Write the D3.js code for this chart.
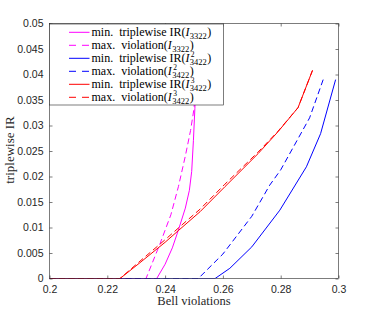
<!DOCTYPE html>
<html>
<head>
<meta charset="utf-8">
<script src="https://cdn.jsdelivr.net/npm/d3@7"></script>
<style>
  body { margin: 0; background: #fff; }
  svg { display: block; }
</style>
</head>
<body>
<div id="chart"></div>
<script>
// data
var xTicks = [0.2, 0.22, 0.24, 0.26, 0.28, 0.3];
var yTicks = [0, 0.005, 0.01, 0.015, 0.02, 0.025, 0.03, 0.035, 0.04, 0.045, 0.05];

var magSolidX = [0.2, 0.2371, 0.2400, 0.2425, 0.2446, 0.2470, 0.2484, 0.2492, 0.2498, 0.2503, 0.2507];
var magSolidY = [0, 0, 0.0028, 0.0060, 0.0095, 0.0138, 0.0173, 0.0210, 0.0271, 0.0333, 0.0400];
var magDashX = [0.2, 0.2334, 0.2383, 0.2420, 0.2446, 0.2470, 0.2488, 0.2500, 0.2508];
var magDashY = [0, 0, 0.0069, 0.0125, 0.0180, 0.0240, 0.0290, 0.0333, 0.0400];

var blueSolidX = [0.2, 0.2573, 0.2624, 0.2700, 0.2797, 0.2889, 0.2938, 0.2990];
var blueSolidY = [0, 0, 0.0020, 0.0062, 0.0134, 0.0219, 0.0284, 0.0390];
var blueDashX = [0.2, 0.2515, 0.2600, 0.2700, 0.2762, 0.2800, 0.2900, 0.2947];
var blueDashY = [0, 0, 0.0048, 0.0122, 0.0183, 0.0213, 0.0315, 0.0390];

var redSolidX = [0.2, 0.2244, 0.2313, 0.2400, 0.2446, 0.2521, 0.2607, 0.2722, 0.2791, 0.2860, 0.2910];
var redSolidY = [0, 0, 0.0031, 0.0071, 0.0094, 0.0131, 0.0180, 0.0245, 0.0288, 0.0335, 0.0408];
var redDashX = [0.2, 0.2244, 0.2313, 0.2400, 0.2446, 0.2521, 0.2607, 0.2722, 0.2791, 0.2860, 0.2910];
var redDashY = [0, 0, 0.0034, 0.0076, 0.0099, 0.0136, 0.0185, 0.0248, 0.0289, 0.0335, 0.0408];

var series = [
  {xs: magSolidX, ys: magSolidY, color: '#ff00ff', dash: null, label: 'min.  triplewise IR(', sub: '3322', sup: null},
  {xs: magDashX, ys: magDashY, color: '#ff00ff', dash: '6,3.5', label: 'max.  violation(', sub: '3322', sup: null},
  {xs: blueSolidX, ys: blueSolidY, color: '#0000ff', dash: null, label: 'min.  triplewise IR(', sub: '3422', sup: '2'},
  {xs: blueDashX, ys: blueDashY, color: '#0000ff', dash: '6,3.5', label: 'max.  violation(', sub: '3422', sup: '2'},
  {xs: redSolidX, ys: redSolidY, color: '#ff0000', dash: null, label: 'min.  triplewise IR(', sub: '3422', sup: '3'},
  {xs: redDashX, ys: redDashY, color: '#ff0000', dash: '6,3.5', label: 'max.  violation(', sub: '3422', sup: '3'}
];

var width = 374, height = 313;
var margin = {left: 49.5, right: 35.5, top: 23.5, bottom: 34.5};
var axisColor = '#262626';
var serif = '"Liberation Serif", "DejaVu Serif", serif';
var sans = '"Liberation Sans", Arial, sans-serif';

var svg = d3.select('#chart').append('svg')
  .attr('width', width)
  .attr('height', height);

var x = d3.scaleLinear().domain([0.2, 0.3]).range([margin.left, width - margin.right]);
var y = d3.scaleLinear().domain([0, 0.05]).range([height - margin.bottom, margin.top]);

var fmt = function (d) { return String(+d.toFixed(4)); };

svg.append('clipPath').attr('id', 'clip')
  .append('rect')
  .attr('x', margin.left).attr('y', margin.top)
  .attr('width', x.range()[1] - margin.left)
  .attr('height', y.range()[0] - margin.top);

var line = d3.line()
  .x(function (d) { return x(d[0]); })
  .y(function (d) { return y(d[1]); });

svg.append('g').attr('clip-path', 'url(#clip)')
  .selectAll('path')
  .data(series)
  .enter()
  .append('path')
  .attr('d', function (s) { return line(d3.zip(s.xs, s.ys)); })
  .attr('fill', 'none')
  .attr('stroke', function (s) { return s.color; })
  .attr('stroke-width', 1)
  .attr('stroke-dasharray', function (s) { return s.dash; });

// axes: ticks point inward, box on
function styleAxis(g) {
  g.select('.domain').remove();
  g.selectAll('.tick line').attr('stroke', axisColor).attr('stroke-width', 0.6);
  g.selectAll('.tick text').attr('fill', axisColor)
    .style('font-family', sans).style('font-size', '10.5px');
}

svg.append('g')
  .attr('transform', 'translate(0,' + y.range()[0] + ')')
  .call(d3.axisBottom(x).tickValues(xTicks).tickFormat(fmt).tickSizeInner(-3).tickSizeOuter(0).tickPadding(7))
  .call(styleAxis);

svg.append('g')
  .attr('transform', 'translate(0,' + margin.top + ')')
  .call(d3.axisTop(x).tickValues(xTicks).tickFormat('').tickSizeInner(-3).tickSizeOuter(0))
  .call(styleAxis);

svg.append('g')
  .attr('transform', 'translate(' + margin.left + ',0)')
  .call(d3.axisLeft(y).tickValues(yTicks).tickFormat(fmt).tickSizeInner(-3).tickSizeOuter(0).tickPadding(6))
  .call(styleAxis);

svg.append('g')
  .attr('transform', 'translate(' + x.range()[1] + ',0)')
  .call(d3.axisRight(y).tickValues(yTicks).tickFormat('').tickSizeInner(-3).tickSizeOuter(0))
  .call(styleAxis);

svg.append('rect')
  .attr('x', margin.left).attr('y', margin.top)
  .attr('width', x.range()[1] - margin.left)
  .attr('height', y.range()[0] - margin.top)
  .attr('fill', 'none')
  .attr('stroke', axisColor)
  .attr('stroke-width', 0.6);

// axis labels
svg.append('text')
  .attr('x', (x.range()[0] + x.range()[1]) / 2)
  .attr('y', 305)
  .attr('text-anchor', 'middle')
  .style('font-family', serif).style('font-size', '12.5px')
  .attr('fill', axisColor)
  .text('Bell violations');

svg.append('text')
  .attr('transform', 'translate(13.5,150) rotate(-90)')
  .attr('text-anchor', 'middle')
  .style('font-family', serif).style('font-size', '13px')
  .attr('fill', axisColor)
  .text('triplewise IR');

// legend
var leg = svg.append('g');
leg.append('rect')
  .attr('x', margin.left).attr('y', margin.top + 0.5)
  .attr('width', 174).attr('height', 81)
  .attr('fill', '#fff')
  .attr('stroke', axisColor)
  .attr('stroke-width', 0.6);

var rowY = function (i) { return 32.3 + i * 13; };

series.forEach(function (s, i) {
  var cy = rowY(i);
  leg.append('line')
    .attr('x1', 69).attr('x2', 89.5)
    .attr('y1', cy).attr('y2', cy)
    .attr('stroke', s.color)
    .attr('stroke-width', 1)
    .attr('stroke-dasharray', s.dash ? '7,6' : null);

  var t = leg.append('text')
    .attr('x', 91.5).attr('y', cy + 4)
    .style('font-family', serif).style('font-size', '12px')
    .attr('fill', '#000')
    .attr('xml:space', 'preserve')
    .style('white-space', 'pre');
  t.append('tspan').text(s.label);
  t.append('tspan').style('font-style', 'italic').text('I');
  var w = t.node().getComputedTextLength();
  var sx = 91.5 + w + 0.3;
  var subT = leg.append('text')
    .attr('x', sx).attr('y', cy + 6.5)
    .style('font-family', serif).style('font-size', '8.5px')
    .text(s.sub);
  var sw = subT.node().getComputedTextLength();
  var sw2 = 0;
  if (s.sup) {
    var supT = leg.append('text')
      .attr('x', sx + 1).attr('y', cy - 1)
      .style('font-family', serif).style('font-size', '7.5px')
      .text(s.sup);
    sw2 = supT.node().getComputedTextLength() + 1;
  }
  leg.append('text')
    .attr('x', sx + Math.max(sw, sw2) + 0.5).attr('y', cy + 4)
    .style('font-family', serif).style('font-size', '12px')
    .text(')');
});
</script>
</body>
</html>
